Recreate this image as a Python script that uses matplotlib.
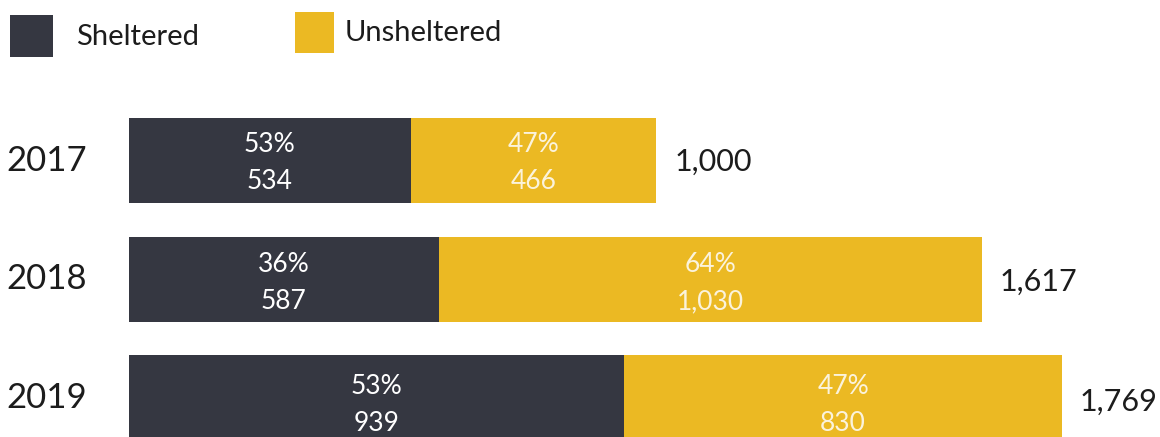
import matplotlib
matplotlib.use("Agg")
import matplotlib.pyplot as plt
from matplotlib.patches import Rectangle
from matplotlib.transforms import blended_transform_factory, offset_copy

years = ["2017", "2018", "2019"]
sheltered = [534, 587, 939]
unsheltered = [466, 1030, 830]
sheltered_pct = ["53%", "36%", "53%"]
unsheltered_pct = ["47%", "64%", "47%"]
totals = ["1,000", "1,617", "1,769"]
legend_labels = ["Sheltered", "Unsheltered"]

DARK = "#353741"
GOLD = "#EBB923"
TXT = "#1c1c1c"

plt.rcParams["font.family"] = ["Lato", "DejaVu Sans"]

W, H, DPI = 1160, 437, 100
fig = plt.figure(figsize=(W / DPI, H / DPI), dpi=DPI)
ax = fig.add_axes([0, 0, 1, 1])
ax.set_axis_off()

s = (1062 - 129) / 1769.0  # px per unit
x0 = 129
ax.set_xlim(-x0 / s, (W - x0) / s)
step = 118.5
c0 = 161
ax.set_ylim((H - c0) / step, (0 - c0) / step)

ypos = list(range(len(years)))
bh = 85 / step
ax.barh(ypos, sheltered, height=bh, color=DARK, linewidth=0)
ax.barh(ypos, unsheltered, left=sheltered, height=bh, color=GOLD, linewidth=0)

base = ax.transData
row_shift_px = [2, 4, 7]
pt = 72.0 / DPI
for i in ypos:
    up = offset_copy(base, fig=fig, x=0, y=(18.5 - row_shift_px[i]) * pt, units="points")
    dn = offset_copy(base, fig=fig, x=0, y=(-18.5 - row_shift_px[i]) * pt, units="points")
    cs = sheltered[i] / 2
    cu = sheltered[i] + unsheltered[i] / 2
    ax.text(cs, i, sheltered_pct[i], transform=up, ha="center", va="center",
            color="white", fontsize=19)
    ax.text(cs, i, f"{sheltered[i]:,}", transform=dn, ha="center", va="center",
            color="white", fontsize=19)
    ax.text(cu, i, unsheltered_pct[i], transform=up, ha="center", va="center",
            color="#FBF3DC", fontsize=19)
    ax.text(cu, i, f"{unsheltered[i]:,}", transform=dn, ha="center", va="center",
            color="#FBF3DC", fontsize=19)
    tot = sheltered[i] + unsheltered[i]
    tshift = offset_copy(base, fig=fig, x=0, y=-row_shift_px[i] * 0.5 * pt, units="points")
    ax.text(tot + 18 / s, i, totals[i], transform=tshift, ha="left", va="center",
            color=TXT, fontsize=22)

yl = blended_transform_factory(fig.transFigure, ax.transData)
for i in ypos:
    ax.text(6 / W, i, years[i], transform=yl, ha="left", va="center",
            color=TXT, fontsize=25)

# legend
def px_rect(x, y, w, h, color):
    fig.patches.append(Rectangle((x / W, 1 - (y + h) / H), w / W, h / H,
                                 transform=fig.transFigure, color=color,
                                 linewidth=0))

px_rect(10, 15, 43, 42, DARK)
px_rect(295, 12, 39, 41, GOLD)
fig.text(76 / W, 1 - 37 / H, legend_labels[0], ha="left", va="center",
         color=TXT, fontsize=21)
fig.text(345 / W, 1 - 33 / H, legend_labels[1], ha="left", va="center",
         color=TXT, fontsize=21)

fig.savefig("out.png", dpi=DPI, facecolor="white")
